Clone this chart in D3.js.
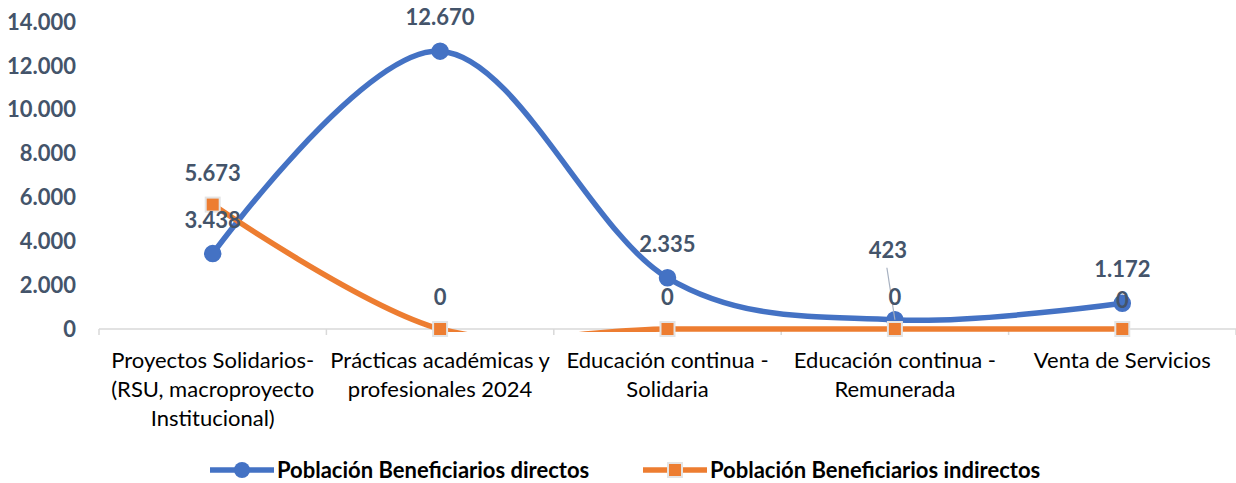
<!DOCTYPE html>
<html>
<head>
<meta charset="utf-8">
<script src="https://cdn.jsdelivr.net/npm/d3@7"></script>
<style>
  body { margin: 0; background: #fff; }
  svg text { font-family: Lato, "Open Sans", sans-serif; }
</style>
</head>
<body>
<svg id="chart" width="1236" height="483"></svg>
<script>
const categories = [
  'Proyectos Solidarios-\n(RSU, macroproyecto\nInstitucional)',
  'Prácticas académicas y\nprofesionales 2024',
  'Educación continua -\nSolidaria',
  'Educación continua -\nRemunerada',
  'Venta de Servicios'
]
const directos = [3438, 12670, 2335, 423, 1172]
const indirectos = [5673, 0, 0, 0, 0]
const yTicks = [0, 2000, 4000, 6000, 8000, 10000, 12000, 14000]
const seriesNames = ['Población Beneficiarios directos', 'Población Beneficiarios indirectos']

const svg = d3.select('#chart')
const margin = { left: 99, right: 0, top: 22, bottom: 154 }
const width = 1236 - margin.left - margin.right
const height = 483 - margin.top - margin.bottom
const g = svg.append('g').attr('transform', `translate(${margin.left},${margin.top})`)

const xScale = d3.scaleBand().domain(categories).range([0, width])
const yScale = d3.scaleLinear().domain([0, 14000]).range([height, 0])
const fmt = v => d3.format(',')(v).replace(/,/g, '.')
const cx = c => xScale(c) + xScale.bandwidth() / 2

// plot area clip (lines that overshoot below 0 are hidden)
svg.append('defs').append('clipPath').attr('id', 'plot-clip')
  .append('rect').attr('x', -10).attr('y', -30).attr('width', width + 20).attr('height', height + 33)

// y axis labels
g.selectAll('.ytick')
  .data(yTicks)
  .enter()
  .append('text')
  .attr('x', -23)
  .attr('y', d => yScale(d))
  .attr('dy', '0.35em')
  .attr('text-anchor', 'end')
  .style('font-size', '22px')
  .style('font-weight', 'bold')
  .style('fill', '#44546a')
  .text(fmt)

// x axis line + ticks
g.append('line')
  .attr('x1', 0).attr('x2', width)
  .attr('y1', height).attr('y2', height)
  .style('stroke', '#d9d9d9').style('stroke-width', 1.5)
const bounds = categories.map(c => xScale(c)).concat([width])
g.selectAll('.xtick')
  .data(bounds)
  .enter()
  .append('line')
  .attr('x1', d => d).attr('x2', d => d)
  .attr('y1', height).attr('y2', height + 6)
  .style('stroke', '#d9d9d9').style('stroke-width', 1.5)

// category labels
categories.forEach(c => {
  const t = g.append('text')
    .attr('x', cx(c))
    .attr('y', height + 39)
    .attr('text-anchor', 'middle')
    .style('font-size', '22px')
    .style('fill', '#000')
  c.split('\n').forEach((line, i) => {
    t.append('tspan').attr('x', cx(c)).attr('dy', i === 0 ? 0 : 29).text(line)
  })
})

const line = d3.line()
  .x((d, i) => cx(categories[i]))
  .y(d => yScale(d))
  .curve(d3.curveCardinal.tension(0))

const blue = '#4472c4'
const orange = '#ed7d31'

g.append('path').datum(directos).attr('d', line)
  .attr('clip-path', 'url(#plot-clip)')
  .style('fill', 'none').style('stroke', blue).style('stroke-width', 5.5)
g.append('path').datum(indirectos).attr('d', line)
  .attr('clip-path', 'url(#plot-clip)')
  .style('fill', 'none').style('stroke', orange).style('stroke-width', 5.5)

g.selectAll('.dot')
  .data(directos)
  .enter()
  .append('circle')
  .attr('cx', (d, i) => cx(categories[i]))
  .attr('cy', d => yScale(d))
  .attr('r', 8)
  .style('fill', blue).style('stroke', blue).style('stroke-width', 1.5)

g.selectAll('.sq')
  .data(indirectos)
  .enter()
  .append('rect')
  .attr('x', (d, i) => cx(categories[i]) - 7)
  .attr('y', d => yScale(d) - 7)
  .attr('width', 14).attr('height', 14)
  .style('fill', orange).style('stroke', '#e4e4e4').style('stroke-width', 2)

// data labels
const labelStyle = sel => sel
  .attr('text-anchor', 'middle')
  .style('font-size', '22px')
  .style('font-weight', 'bold')
  .style('fill', '#44546a')

// leader line for the moved 423 label
const movedIdx = 3
g.append('line')
  .attr('x1', cx(categories[movedIdx]) - 8)
  .attr('y1', yScale(directos[movedIdx]) - 52)
  .attr('x2', cx(categories[movedIdx]))
  .attr('y2', yScale(directos[movedIdx]))
  .style('stroke', '#a6b0c0').style('stroke-width', 1.2)

g.selectAll('.lblI')
  .data(indirectos)
  .enter()
  .append('text')
  .attr('x', (d, i) => cx(categories[i]))
  .attr('y', (d, i) => yScale(d) - (i === 4 ? 21 : 24))
  .call(labelStyle)
  .text(fmt)

g.selectAll('.lblD')
  .data(directos)
  .enter()
  .append('text')
  .attr('x', (d, i) => cx(categories[i]) - (i === movedIdx ? 7 : 0))
  .attr('y', (d, i) => yScale(d) - (i === movedIdx ? 62 : 26))
  .call(labelStyle)
  .text(fmt)

// legend
const legend = svg.append('g').attr('transform', 'translate(0,470)')
const items = [
  { name: seriesNames[0], color: blue, x: 210, shape: 'circle' },
  { name: seriesNames[1], color: orange, x: 643, shape: 'square' }
]
items.forEach(it => {
  const lg = legend.append('g').attr('transform', `translate(${it.x},0)`)
  lg.append('line').attr('x1', 0).attr('x2', 64).attr('y1', 0).attr('y2', 0)
    .style('stroke', it.color).style('stroke-width', 5.5)
  if (it.shape === 'circle') {
    lg.append('circle').attr('cx', 32).attr('cy', 0).attr('r', 8).style('fill', it.color)
  } else {
    lg.append('rect').attr('x', 25).attr('y', -7).attr('width', 14).attr('height', 14)
      .style('fill', it.color).style('stroke', '#e4e4e4').style('stroke-width', 2)
  }
  lg.append('text').attr('x', 67).attr('y', 0).attr('dy', '0.35em')
    .style('font-size', '22px').style('font-weight', 'bold').style('fill', '#000')
    .text(it.name)
})
</script>
</body>
</html>
